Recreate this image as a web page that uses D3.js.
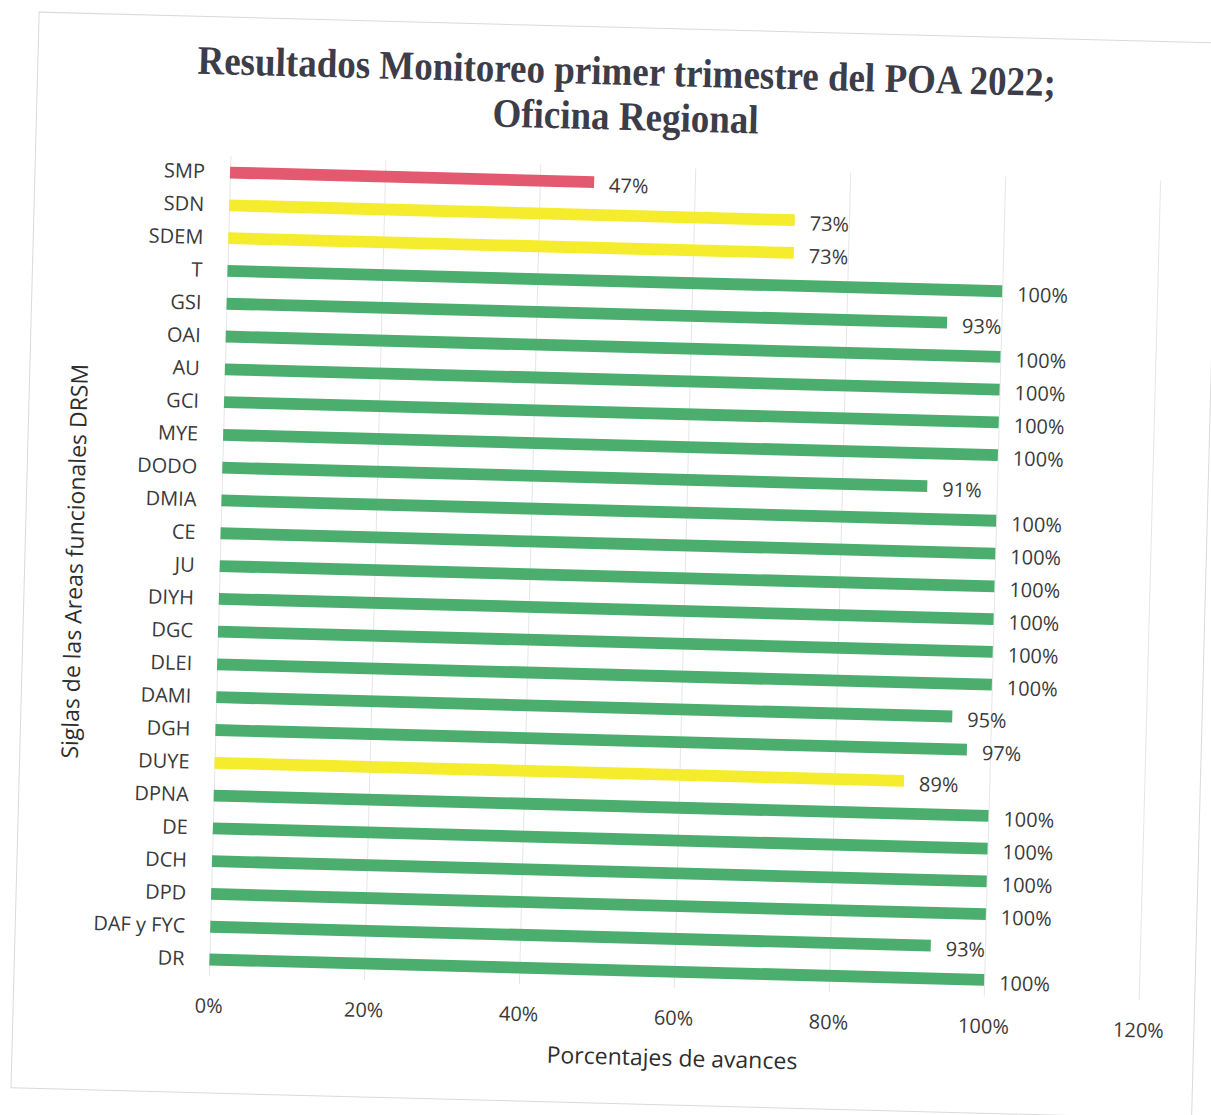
<!DOCTYPE html>
<html>
<head>
<meta charset="utf-8">
<title>Resultados Monitoreo POA 2022</title>
<script src="https://d3js.org/d3.v7.min.js"></script>
<style>
    body { margin: 0; background: #fff; }
    .cat text, .xticks text { font-family: "Open Sans", sans-serif; fill: #3a3a3a; }
    .grid line { stroke: #e6e6e6; stroke-width: 1px; }
</style>
</head>
<body>
<svg id="chart" width="1211" height="1115"></svg>
<script>
    // data
    const areas = ["SMP", "SDN", "SDEM", "T", "GSI", "OAI", "AU", "GCI", "MYE", "DODO", "DMIA", "CE", "JU",
        "DIYH", "DGC", "DLEI", "DAMI", "DGH", "DUYE", "DPNA", "DE", "DCH", "DPD", "DAF y FYC", "DR"];
    const avance = [0.47, 0.73, 0.73, 1.00, 0.93, 1.00, 1.00, 1.00, 1.00, 0.91, 1.00, 1.00, 1.00,
        1.00, 1.00, 1.00, 0.95, 0.97, 0.89, 1.00, 1.00, 1.00, 1.00, 0.93, 1.00];
    const estado = ["rojo", "amarillo", "amarillo", "verde", "verde", "verde", "verde", "verde", "verde", "verde", "verde", "verde", "verde",
        "verde", "verde", "verde", "verde", "verde", "amarillo", "verde", "verde", "verde", "verde", "verde", "verde"];
    const xTicks = [0, 0.2, 0.4, 0.6, 0.8, 1.0, 1.2];
    const xTickLabels = ["0%", "20%", "40%", "60%", "80%", "100%", "120%"];
    const valueLabels = avance.map(v => Math.round(v * 100) + "%");

    const svg = d3.select("#chart");
    // the original is a slightly tilted scan, so the whole chart is turned a bit
    const chart = svg.append("g").attr("transform", "rotate(1.5, 600, 560)");

    const data = areas.map((a, i) => ({ area: a, value: avance[i], estado: estado[i], label: valueLabels[i] }));

    const colorScale = d3.scaleOrdinal()
        .domain(["rojo", "amarillo", "verde"])
        .range(["#e35a70", "#f6ec2e", "#4cae6e"]);

    const x = d3.scaleLinear().domain([0, 1.2]).range([220, 1150]);
    const y = d3.scaleBand().domain(areas).range([166, 986]).paddingInner(0.64).paddingOuter(0.32);

    // frame of the chart area
    chart.append("rect")
        .attr("x", 25).attr("y", 27)
        .attr("width", 1181).attr("height", 1076)
        .attr("fill", "none")
        .attr("stroke", "#dadada");

    // vertical gridlines
    chart.append("g")
        .attr("class", "grid")
        .attr("transform", "translate(0,166)")
        .call(d3.axisBottom(x).tickValues(xTicks).tickSize(820).tickFormat(""))
        .call(g => g.select(".domain").remove());

    chart.selectAll("rect.bar")
        .data(data)
        .join("rect")
        .attr("class", "bar")
        .attr("x", x(0))
        .attr("y", d => y(d.area))
        .attr("width", d => x(d.value) - x(0))
        .attr("height", y.bandwidth())
        .attr("fill", d => colorScale(d.estado));

    chart.selectAll("text.val")
        .data(data)
        .join("text")
        .attr("class", "val")
        .attr("x", d => x(d.value) + 15)
        .attr("y", d => y(d.area) + y.bandwidth() / 2 + 3)
        .attr("dy", "0.35em")
        .attr("font-family", "Open Sans, sans-serif")
        .attr("font-size", 20)
        .attr("fill", "#3a3a3a")
        .text(d => d.label);

    // category axis
    chart.append("g")
        .attr("class", "cat")
        .attr("transform", `translate(${x(0)},0)`)
        .call(d3.axisLeft(y).tickSize(0).tickPadding(25))
        .call(g => g.select(".domain").remove())
        .selectAll("text").attr("font-size", 20);

    // value axis labels
    chart.append("g")
        .attr("class", "xticks")
        .attr("transform", "translate(0,986)")
        .call(d3.axisBottom(x).tickValues(xTicks).tickSize(0).tickFormat((d, i) => xTickLabels[i]))
        .call(g => g.select(".domain").remove())
        .selectAll("text")
        .attr("y", 30)
        .attr("dy", "0.35em")
        .attr("font-size", 20);

    chart.append("text")
        .attr("x", 685).attr("y", 1056)
        .attr("dy", "0.35em")
        .attr("text-anchor", "middle")
        .attr("font-family", "Open Sans, sans-serif")
        .attr("font-size", 23)
        .attr("fill", "#2e2e2e")
        .text("Porcentajes de avances");

    chart.append("text")
        .attr("transform", "translate(75,575) rotate(-90)")
        .attr("dy", "0.35em")
        .attr("text-anchor", "middle")
        .attr("font-family", "Open Sans, sans-serif")
        .attr("font-size", 23)
        .attr("fill", "#2e2e2e")
        .text("Siglas de las Areas funcionales DRSM");

    // title, bold serif, a little taller than wide like the scan
    const title = chart.append("text")
        .attr("text-anchor", "middle")
        .attr("transform", "translate(0,-8) scale(1,1.1)")
        .attr("font-family", "Liberation Serif, serif")
        .attr("font-weight", "bold")
        .attr("font-size", 37)
        .attr("fill", "#3d3d4a");
    title.append("tspan").attr("x", 614).attr("y", 84).text("Resultados Monitoreo primer trimestre del POA 2022;");
    title.append("tspan").attr("x", 614).attr("y", 125).text("Oficina Regional");
</script>
</body>
</html>
